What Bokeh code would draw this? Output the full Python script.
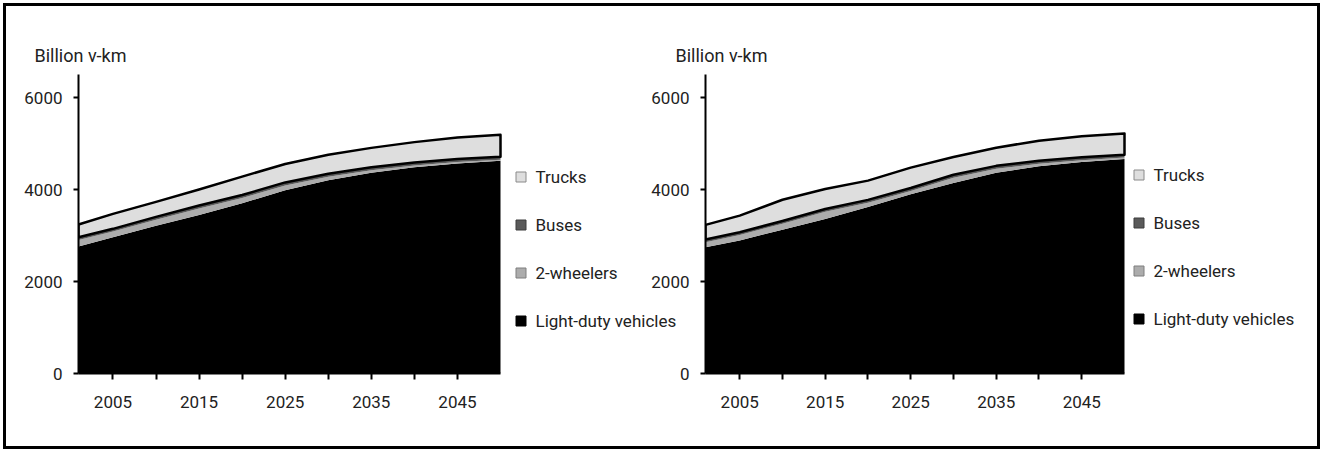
from bokeh.plotting import figure
from bokeh.layouts import row
from bokeh.models import Range1d, FixedTicker, Legend, LegendItem
from bokeh.embed import file_html
from bokeh.resources import INLINE

# ---- data (billion vehicle-km) ----
years = [2001, 2005, 2010, 2015, 2020, 2025, 2030, 2035, 2040, 2045, 2050]

# left scenario
ldv_a = [2761, 2963, 3212, 3443, 3701, 3982, 4202, 4362, 4481, 4566, 4627]
two_a = [142, 122, 131, 146, 116, 106, 73, 57, 40, 31, 20]
bus_a = [60, 60, 62, 64, 64, 66, 66, 66, 66, 66, 66]
trk_a = [277, 325, 325, 347, 399, 401, 414, 420, 443, 467, 477]

# right scenario
ldv_b = [2746, 2891, 3127, 3360, 3621, 3896, 4141, 4362, 4506, 4596, 4665]
two_b = [109, 122, 127, 155, 92, 72, 116, 88, 56, 39, 28]
bus_b = [58, 58, 60, 62, 62, 64, 64, 64, 64, 64, 64]
trk_b = [318, 362, 464, 433, 418, 443, 385, 394, 436, 458, 463]

series = ["Trucks", "Buses", "2-wheelers", "Light-duty vehicles"]
y_ticks = [0, 2000, 4000, 6000]
x_label_ticks = [2005, 2015, 2025, 2035, 2045]
x_minor_ticks = [2010, 2020, 2030, 2040]
unit_label = "Billion v-km"

FONT = "Roboto"
FS = "17px"
TXT = "#222222"
COL = {"Trucks": "#dedede", "Buses": "#5a5a5a",
       "2-wheelers": "#acacac", "Light-duty vehicles": "#000000"}
EDGE = {"Trucks": "#8a8a8a", "Buses": "#3c3c3c",
        "2-wheelers": "#7f7f7f", "Light-duty vehicles": "#000000"}


def make_fig(width, left, x_end, title_offset):
    # the frame runs to the right edge of the canvas so that the legend
    # sits inside it; the x axis itself is bounded to the data years
    p = figure(width=width, height=440,
               x_range=Range1d(2001, x_end), y_range=Range1d(0, 6500),
               output_backend="svg", toolbar_location=None,
               min_border_left=left, min_border_right=0,
               min_border_top=68, min_border_bottom=73,
               title=unit_label)
    p.grid.visible = False
    p.outline_line_color = None
    p.background_fill_alpha = 0
    p.border_fill_alpha = 0

    p.title.align = "left"
    p.title.offset = title_offset
    p.title.standoff = 18
    p.title.text_font = FONT
    p.title.text_font_size = "18px"
    p.title.text_font_style = "normal"
    p.title.text_color = TXT

    ya = p.yaxis[0]
    ya.ticker = FixedTicker(ticks=y_ticks)
    ya.major_tick_in = 0
    ya.major_tick_out = 5
    ya.minor_tick_in = 0
    ya.minor_tick_out = 0
    ya.major_label_standoff = 11

    xa = p.xaxis[0]
    xa.bounds = (2001, 2050)
    xa.ticker = FixedTicker(ticks=x_label_ticks, minor_ticks=x_minor_ticks)
    xa.major_tick_in = 0
    xa.major_tick_out = 6
    xa.minor_tick_in = 0
    xa.minor_tick_out = 6
    xa.major_label_standoff = 16

    for ax in (xa, ya):
        ax.axis_line_width = 2
        ax.axis_line_color = "black"
        ax.major_tick_line_width = 2
        ax.minor_tick_line_width = 2
        ax.major_tick_line_color = "black"
        ax.minor_tick_line_color = "black"
        ax.major_label_text_font = FONT
        ax.major_label_text_font_size = FS
        ax.major_label_text_color = TXT
    return p


def draw_stack(p, ldv, two, bus, trk):
    c1 = list(ldv)
    c2 = [a + b for a, b in zip(c1, two)]
    c3 = [a + b for a, b in zip(c2, bus)]
    c4 = [a + b for a, b in zip(c3, trk)]
    p.varea(x=years, y1=0, y2=c1, fill_color=COL["Light-duty vehicles"])
    p.varea(x=years, y1=c1, y2=c2, fill_color=COL["2-wheelers"])
    p.varea(x=years, y1=c2, y2=c3, fill_color=COL["Buses"])
    # trucks band, outlined in black
    p.patch(x=years + years[::-1], y=c4 + c3[::-1],
            fill_color=COL["Trucks"], line_color="black", line_width=2.5,
            line_join="round")


def add_legend(p, loc):
    # swatch renderers with no drawable point; they only feed the legend
    nan = float("nan")
    swatch = {}
    for name in series:
        swatch[name] = p.scatter(x=[nan], y=[nan], marker="square", size=10,
                                 fill_color=COL[name], line_color=EDGE[name],
                                 line_width=1)
    leg = Legend(items=[LegendItem(label=n, renderers=[swatch[n]]) for n in series],
                 location=loc, orientation="vertical",
                 border_line_color=None, background_fill_alpha=0,
                 padding=0, margin=0, spacing=23,
                 glyph_width=25, glyph_height=25, label_height=25,
                 label_standoff=3, label_text_font=FONT,
                 label_text_font_size=FS, label_text_color=TXT)
    p.add_layout(leg, "center")


# left panel: frame 2001..2050 spans 422 px, then 200 px for the legend
p1 = make_fig(694, 72, 2050 + 200 * 49 / 422, -44)
draw_stack(p1, ldv_a, two_a, bus_a, trk_a)
add_legend(p1, (429.5, 40))

# right panel: frame 2001..2050 spans 419 px, then 193 px for the legend
p2 = make_fig(717, 105, 2050 + 193 * 49 / 419, -30)
draw_stack(p2, ldv_b, two_b, bus_b, trk_b)
add_legend(p2, (420.5, 42))
p2.styles = {"margin-left": "-100px"}

layout = row(p1, p2, styles={"border": "3px solid black",
                             "margin-left": "3px", "margin-top": "3px",
                             "background-color": "white"})

open("out.html", "w").write(file_html(layout, INLINE))
